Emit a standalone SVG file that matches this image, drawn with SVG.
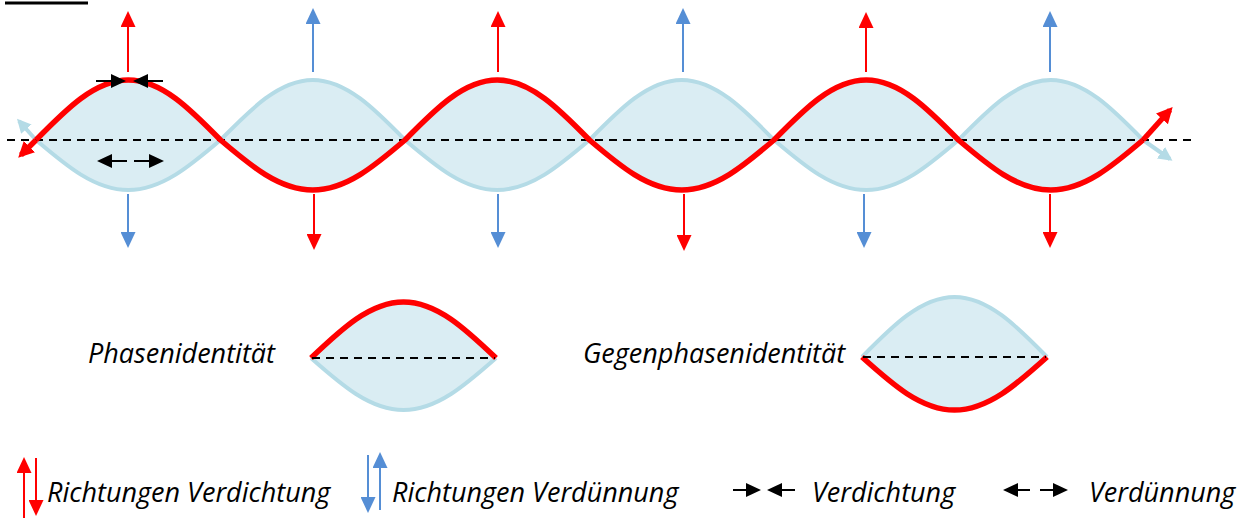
<svg xmlns="http://www.w3.org/2000/svg" width="1243" height="518" viewBox="0 0 1243 518">
<style>
.lbl{font-family:"Open Sans","Liberation Sans",sans-serif;font-style:italic;font-size:27px;fill:#000}
.axis{stroke:#000;stroke-width:2;stroke-dasharray:8 6;fill:none}
.fill{fill:#DAEDF3;stroke:none}
.red{stroke:#FF0000;stroke-width:5.5;fill:none}
.lb{stroke:#B4DBE6;stroke-width:4;fill:none}
.ra{stroke:#FF0000;stroke-width:2;fill:none}
.ba{stroke:#558ED5;stroke-width:2;fill:none}
.ka{stroke:#000;stroke-width:2;fill:none}
</style>
<defs>
<marker id="mRed" viewBox="0 0 16 15" markerWidth="16" markerHeight="15" refX="13" refY="7.5" orient="auto" markerUnits="userSpaceOnUse"><path d="M0,0 L16,7.5 L0,15 Z" fill="#FF0000"/></marker>
<marker id="mBlue" viewBox="0 0 16 15" markerWidth="16" markerHeight="15" refX="13" refY="7.5" orient="auto" markerUnits="userSpaceOnUse"><path d="M0,0 L16,7.5 L0,15 Z" fill="#558ED5"/></marker>
<marker id="mRedBig" viewBox="0 0 16 16" markerWidth="16" markerHeight="16" refX="12" refY="8" orient="auto" markerUnits="userSpaceOnUse"><path d="M0,0 L16,8 L0,16 Z" fill="#FF0000"/></marker>
<marker id="mLB" viewBox="0 0 14 14" markerWidth="14" markerHeight="14" refX="11" refY="7" orient="auto" markerUnits="userSpaceOnUse"><path d="M0,0 L14,7 L0,14 Z" fill="#B4DBE6"/></marker>
<marker id="mBlack" viewBox="0 0 15 14" markerWidth="15" markerHeight="14" refX="12" refY="7" orient="auto" markerUnits="userSpaceOnUse"><path d="M0,0 L15,7 L0,14 Z" fill="#000"/></marker>
</defs>

<line x1="5" y1="3" x2="88" y2="3" stroke="#000" stroke-width="3"/>

<g id="wave">
<path class="fill" d="M36,140 C66.08,109.26 94.87,80 128.25,80 C161.63,80 190.42,109.26 220.5,140 C250.58,165.6 279.37,190 312.75,190 C346.13,190 374.92,165.6 405,140 C435.08,109.26 463.87,80 497.25,80 C530.63,80 559.42,109.26 589.5,140 C619.58,165.6 648.37,190 681.75,190 C715.13,190 743.92,165.6 774,140 C804.08,109.26 832.87,80 866.25,80 C899.63,80 928.42,109.26 958.5,140 C988.58,165.6 1017.37,190 1050.75,190 C1084.13,190 1112.92,165.6 1143,140 Z"/>
<path class="fill" d="M36,140 C66.08,165.6 94.87,190 128.25,190 C161.63,190 190.42,165.6 220.5,140 C250.58,109.26 279.37,80 312.75,80 C346.13,80 374.92,109.26 405,140 C435.08,165.6 463.87,190 497.25,190 C530.63,190 559.42,165.6 589.5,140 C619.58,109.26 648.37,80 681.75,80 C715.13,80 743.92,109.26 774,140 C804.08,165.6 832.87,190 866.25,190 C899.63,190 928.42,165.6 958.5,140 C988.58,109.26 1017.37,80 1050.75,80 C1084.13,80 1112.92,109.26 1143,140 Z"/>
<path class="lb" d="M36,140 C66.08,165.6 94.87,190 128.25,190 C161.63,190 190.42,165.6 220.5,140 C250.58,109.26 279.37,80 312.75,80 C346.13,80 374.92,109.26 405,140 C435.08,165.6 463.87,190 497.25,190 C530.63,190 559.42,165.6 589.5,140 C619.58,109.26 648.37,80 681.75,80 C715.13,80 743.92,109.26 774,140 C804.08,165.6 832.87,190 866.25,190 C899.63,190 928.42,165.6 958.5,140 C988.58,109.26 1017.37,80 1050.75,80 C1084.13,80 1112.92,109.26 1143,140"/>
<line class="lb" x1="36" y1="140" x2="19" y2="121" marker-end="url(#mLB)"/>
<line class="lb" x1="1143" y1="140" x2="1170" y2="159" marker-end="url(#mLB)"/>
<line class="axis" x1="7" y1="140" x2="1192" y2="140"/>
<path class="red" d="M36,140 C66.08,109.26 94.87,80 128.25,80 C161.63,80 190.42,109.26 220.5,140 C250.58,165.6 279.37,190 312.75,190 C346.13,190 374.92,165.6 405,140 C435.08,109.26 463.87,80 497.25,80 C530.63,80 559.42,109.26 589.5,140 C619.58,165.6 648.37,190 681.75,190 C715.13,190 743.92,165.6 774,140 C804.08,109.26 832.87,80 866.25,80 C899.63,80 928.42,109.26 958.5,140 C988.58,165.6 1017.37,190 1050.75,190 C1084.13,190 1112.92,165.6 1143,140"/>
<line class="red" x1="36" y1="140" x2="21" y2="155" marker-end="url(#mRedBig)"/>
<line class="red" x1="1143" y1="140" x2="1170" y2="110" marker-end="url(#mRedBig)"/>
</g>

<g id="connectors">
<line class="ra" x1="128" y1="72" x2="128" y2="14" marker-end="url(#mRed)"/>
<line class="ba" x1="313" y1="72" x2="313" y2="11" marker-end="url(#mBlue)"/>
<line class="ra" x1="498" y1="72" x2="498" y2="14" marker-end="url(#mRed)"/>
<line class="ba" x1="683" y1="72" x2="683" y2="11" marker-end="url(#mBlue)"/>
<line class="ra" x1="866" y1="72" x2="866" y2="15" marker-end="url(#mRed)"/>
<line class="ba" x1="1050" y1="72" x2="1050" y2="14" marker-end="url(#mBlue)"/>
<line class="ba" x1="128" y1="194" x2="128" y2="245" marker-end="url(#mBlue)"/>
<line class="ra" x1="314" y1="194" x2="314" y2="247" marker-end="url(#mRed)"/>
<line class="ba" x1="498" y1="194" x2="498" y2="245" marker-end="url(#mBlue)"/>
<line class="ra" x1="684" y1="194" x2="684" y2="248" marker-end="url(#mRed)"/>
<line class="ba" x1="864" y1="194" x2="864" y2="245" marker-end="url(#mBlue)"/>
<line class="ra" x1="1050" y1="194" x2="1050" y2="245" marker-end="url(#mRed)"/>
<line class="ka" x1="96" y1="81" x2="123" y2="81" marker-end="url(#mBlack)"/>
<line class="ka" x1="163" y1="81" x2="136" y2="81" marker-end="url(#mBlack)"/>
<line class="ka" x1="127" y1="161" x2="100" y2="161" marker-end="url(#mBlack)"/>
<line class="ka" x1="134" y1="161" x2="161" y2="161" marker-end="url(#mBlack)"/>
</g>

<g id="phasenidentitaet">
<path class="fill" d="M311,358 C341.16,329.31 370.02,302 403.5,302 C436.98,302 465.84,329.31 496,358 C465.84,384.64 436.98,410 403.5,410 C370.02,410 341.16,384.64 311,358 Z"/>
<path class="lb" d="M311,358 C341.16,384.64 370.02,410 403.5,410 C436.98,410 465.84,384.64 496,358"/>
<path class="red" d="M311,358 C341.16,329.31 370.02,302 403.5,302 C436.98,302 465.84,329.31 496,358"/>
<line class="axis" x1="312" y1="358" x2="495" y2="358"/>
<text class="lbl" x="88" y="363">Phasenidentität</text>
</g>

<g id="gegenphasenidentitaet">
<path class="fill" d="M862,357 C892.16,326.26 921.02,297 954.5,297 C987.98,297 1016.84,326.26 1047,357 C1016.84,384.15 987.98,410 954.5,410 C921.02,410 892.16,384.15 862,357 Z"/>
<path class="lb" d="M862,357 C892.16,326.26 921.02,297 954.5,297 C987.98,297 1016.84,326.26 1047,357"/>
<path class="red" d="M862,357 C892.16,384.15 921.02,410 954.5,410 C987.98,410 1016.84,384.15 1047,357"/>
<line class="axis" x1="863" y1="357" x2="1046" y2="357"/>
<text class="lbl" x="583" y="363">Gegenphasenidentität</text>
</g>

<g id="legend">
<line class="ra" x1="24" y1="518" x2="24" y2="460" marker-end="url(#mRed)"/>
<line class="ra" x1="36" y1="458" x2="36" y2="513" marker-end="url(#mRed)"/>
<text class="lbl" x="47" y="502">Richtungen Verdichtung</text>
<line class="ba" x1="368" y1="455" x2="368" y2="510" marker-end="url(#mBlue)"/>
<line class="ba" x1="380" y1="510" x2="380" y2="455" marker-end="url(#mBlue)"/>
<text class="lbl" x="392" y="502">Richtungen Verdünnung</text>
<line class="ka" x1="733" y1="490" x2="758" y2="490" marker-end="url(#mBlack)"/>
<line class="ka" x1="795" y1="490" x2="770" y2="490" marker-end="url(#mBlack)"/>
<text class="lbl" x="812" y="502">Verdichtung</text>
<line class="ka" x1="1030" y1="490" x2="1006" y2="490" marker-end="url(#mBlack)"/>
<line class="ka" x1="1040" y1="490" x2="1065" y2="490" marker-end="url(#mBlack)"/>
<text class="lbl" x="1089" y="502">Verdünnung</text>
</g>
</svg>
